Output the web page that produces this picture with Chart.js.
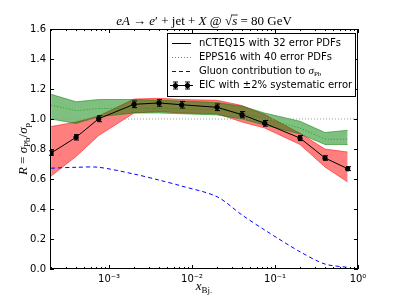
<!DOCTYPE html>
<html>
<head>
<meta charset="utf-8">
<script src="https://cdn.jsdelivr.net/npm/chart.js@4.4.0/dist/chart.umd.min.js"></script>
<style>
html, body { margin: 0; padding: 0; background: #fff; }
#chart { display: block; }
</style>
</head>
<body>
<canvas id="chart" width="399" height="299"></canvas>
<script>
// x_Bj. bins shared by all curves
var xBj = [2e-4, 4e-4, 7.5e-4, 2e-3, 4e-3, 7.5e-3, 0.02, 0.04, 0.075, 0.2, 0.4, 0.75];

// EIC pseudo-data (also the nCTEQ15 central line) and its +-2% error
var eicR   = [0.773, 0.878, 1.002, 1.098, 1.107, 1.095, 1.078, 1.029, 0.971, 0.873, 0.740, 0.669];
var eicErr = [0.015, 0.018, 0.020, 0.022, 0.022, 0.022, 0.022, 0.021, 0.019, 0.017, 0.015, 0.013];

// nCTEQ15 error band
var nctLow  = [0.62, 0.75, 0.89, 1.04, 1.05, 1.04, 1.035, 0.98, 0.94, 0.83, 0.68, 0.58];
var nctHigh = [0.95, 0.98, 1.02, 1.133, 1.138, 1.13, 1.125, 1.09, 1.03, 0.905, 0.80, 0.78];

// EPPS16 error band and central (dotted) line
var eppsLow  = [1.00, 0.97, 1.015, 1.04, 1.04, 1.035, 1.027, 1.00, 0.96, 0.90, 0.83, 0.83];
var eppsHigh = [1.165, 1.115, 1.13, 1.13, 1.125, 1.12, 1.11, 1.085, 1.04, 0.985, 0.91, 0.925];
var eppsMid  = [1.092, 1.056, 1.07, 1.072, 1.072, 1.068, 1.062, 1.04, 1.0, 0.94, 0.865, 0.865];

// gluon contribution to sigma_Pb
var gluon = [0.672, 0.678, 0.678, 0.633, 0.593, 0.553, 0.482, 0.36, 0.26, 0.115, 0.033, 0.011];

// reference line R = 1
var refX = [1.94e-4, 1];
var refY = [1, 1];

// axes
var xRange = [1.94e-4, 1];
var yRange = [0, 1.6];
var xMajorTicks = [1e-3, 1e-2, 1e-1, 1];
var xTickLabels = ['10\u207B\u00B3', '10\u207B\u00B2', '10\u207B\u00B9', '10\u2070'];
var yTicks = [0, 0.2, 0.4, 0.6, 0.8, 1.0, 1.2, 1.4, 1.6];

var SANS = '"DejaVu Sans"';
var SERIF = '"Liberation Serif"';

function pts(xs, ys) {
    return xs.map(function(x, i) { return {x: x, y: ys[i]}; });
}

function drawRich(ctx, segs, x, y) {
    var w = 0;
    segs.forEach(function(s) {
        ctx.font = s.font;
        s.w = ctx.measureText(s.t).width;
        w += s.w;
    });
    var cx = x - w / 2;
    segs.forEach(function(s) {
        ctx.font = s.font;
        ctx.fillText(s.t, cx, y + (s.dy || 0));
        if (s.bar) {
            ctx.lineWidth = 0.8;
            ctx.beginPath();
            ctx.moveTo(cx - 1, y - s.bar);
            ctx.lineTo(cx + s.w + 0.5, y - s.bar);
            ctx.stroke();
        }
        cx += s.w;
    });
}

function errBar(ctx, x, yTop, yBot, cap) {
    ctx.beginPath();
    ctx.moveTo(x, yTop); ctx.lineTo(x, yBot);
    ctx.moveTo(x - cap, yTop); ctx.lineTo(x + cap, yTop);
    ctx.moveTo(x - cap, yBot); ctx.lineTo(x + cap, yBot);
    ctx.stroke();
}

var decorPlugin = {
    id: 'decor',

    afterDatasetsDraw: function(chart) {
        var ctx = chart.ctx, xs = chart.scales.x, ys = chart.scales.y;
        ctx.save();
        ctx.strokeStyle = '#000';
        ctx.lineWidth = 1;
        xBj.forEach(function(x, i) {
            var px = Math.round(xs.getPixelForValue(x)) + 0.5;
            errBar(ctx, px, ys.getPixelForValue(eicR[i] + eicErr[i]), ys.getPixelForValue(eicR[i] - eicErr[i]), 2.5);
        });
        ctx.restore();
    },

    afterDraw: function(chart) {
        var ctx = chart.ctx, a = chart.chartArea;
        var xs = chart.scales.x, ys = chart.scales.y;
        ctx.save();

        // frame
        ctx.strokeStyle = '#000';
        ctx.lineWidth = 1;
        ctx.strokeRect(a.left + 0.5, a.top + 0.5, a.right - a.left - 1, a.bottom - a.top - 1);

        // inward ticks on all four sides
        ctx.beginPath();
        yTicks.forEach(function(v) {
            var py = Math.round(ys.getPixelForValue(v)) + 0.5;
            ctx.moveTo(a.left, py); ctx.lineTo(a.left + 4, py);
            ctx.moveTo(a.right, py); ctx.lineTo(a.right - 4, py);
        });
        for (var e = -4; e <= 0; e++) {
            for (var m = 1; m <= 9; m++) {
                var v = m * Math.pow(10, e);
                if (v < xRange[0] || v > xRange[1]) continue;
                var px = Math.round(xs.getPixelForValue(v)) + 0.5;
                var len = m === 1 ? 4 : 2;
                ctx.moveTo(px, a.bottom); ctx.lineTo(px, a.bottom - len);
                ctx.moveTo(px, a.top); ctx.lineTo(px, a.top + len);
            }
        }
        ctx.stroke();

        // legend
        var lx = 167.5, ly = 33.5, lw = 188, lh = 63;
        ctx.fillStyle = '#fff';
        ctx.fillRect(lx, ly, lw, lh);
        ctx.strokeStyle = '#000';
        ctx.strokeRect(lx, ly, lw, lh);
        var rows = [43.5, 57.5, 71.5, 85.5];
        var h0 = 172, h1 = 191, tx = 199;

        ctx.lineWidth = 1;
        ctx.strokeStyle = '#000';
        ctx.beginPath(); ctx.moveTo(h0, rows[0]); ctx.lineTo(h1, rows[0]); ctx.stroke();

        ctx.strokeStyle = 'rgba(0,160,0,0.8)';
        ctx.setLineDash([1, 2]);
        ctx.beginPath(); ctx.moveTo(h0, rows[1]); ctx.lineTo(h1, rows[1]); ctx.stroke();

        ctx.strokeStyle = '#0000ff';
        ctx.setLineDash([4, 3]);
        ctx.beginPath(); ctx.moveTo(h0, rows[2]); ctx.lineTo(h1, rows[2]); ctx.stroke();
        ctx.setLineDash([]);

        ctx.strokeStyle = '#000';
        ctx.beginPath(); ctx.moveTo(h0 - 2, rows[3]); ctx.lineTo(h1 + 2, rows[3]); ctx.stroke();
        [175.5, 187.5].forEach(function(mx) {
            errBar(ctx, mx, rows[3] - 3.5, rows[3] + 3.5, 2.5);
            ctx.fillStyle = '#000';
            ctx.beginPath(); ctx.arc(mx, rows[3], 2.6, 0, Math.PI * 2); ctx.fill();
        });

        ctx.fillStyle = '#000';
        ctx.textBaseline = 'middle';
        ctx.textAlign = 'left';
        ctx.font = '10px ' + SANS;
        ctx.fillText('nCTEQ15 with 32 error PDFs', tx, rows[0]);
        ctx.fillText('EPPS16 with 40 error PDFs', tx, rows[1]);
        ctx.fillText('Gluon contribution to ', tx, rows[2]);
        var gw = ctx.measureText('Gluon contribution to ').width;
        ctx.font = 'italic 11px ' + SERIF;
        ctx.fillText('\u03C3', tx + gw, rows[2]);
        var sw = ctx.measureText('\u03C3').width;
        ctx.font = '7px ' + SERIF;
        ctx.fillText('Pb', tx + gw + sw, rows[2] + 2.5);
        ctx.font = '10px ' + SANS;
        ctx.fillText('EIC with \u00B12% systematic error', tx, rows[3]);

        // title
        ctx.textAlign = 'left';
        ctx.textBaseline = 'alphabetic';
        ctx.strokeStyle = '#000';
        var it = 'italic 13px ' + SERIF, rm = '13px ' + SERIF;
        drawRich(ctx, [
            {t: 'eA', font: it}, {t: ' \u2192 ', font: rm}, {t: 'e', font: it}, {t: '\u2032', font: rm},
            {t: ' + jet + ', font: rm}, {t: 'X', font: it}, {t: ' @ ', font: rm},
            {t: '\u221A', font: rm}, {t: 's', font: it, bar: 10}, {t: ' = 80 GeV', font: rm}
        ], (a.left + a.right) / 2, 25);

        // x label
        drawRich(ctx, [
            {t: 'x', font: 'italic 13px ' + SERIF}, {t: 'Bj.', font: '9px ' + SERIF, dy: 3}
        ], (a.left + a.right) / 2, 290);

        // y label
        ctx.translate(27, (a.top + a.bottom) / 2);
        ctx.rotate(-Math.PI / 2);
        drawRich(ctx, [
            {t: 'R', font: it}, {t: ' = ', font: rm}, {t: '\u03C3', font: it},
            {t: 'Pb', font: '9px ' + SERIF, dy: 3}, {t: '/', font: rm},
            {t: '\u03C3', font: it}, {t: 'p', font: '9px ' + SERIF, dy: 3}
        ], 0, 0);

        ctx.restore();
    }
};

var ctx = document.getElementById('chart');

new Chart(ctx, {
    type: 'line',
    data: {
        datasets: [
            {   // 0: nCTEQ15 band low
                data: pts(xBj, nctLow),
                borderColor: 'rgba(255,0,0,0.5)', borderWidth: 1,
                pointRadius: 0, fill: false, order: 8
            },
            {   // 1: nCTEQ15 band high
                data: pts(xBj, nctHigh),
                borderColor: 'rgba(255,0,0,0.5)', borderWidth: 1,
                backgroundColor: 'rgba(255,0,0,0.5)',
                pointRadius: 0, fill: 0, order: 7
            },
            {   // 2: EPPS16 band low
                data: pts(xBj, eppsLow),
                borderColor: 'rgba(0,128,0,0.5)', borderWidth: 1,
                pointRadius: 0, fill: false, order: 6
            },
            {   // 3: EPPS16 band high
                data: pts(xBj, eppsHigh),
                borderColor: 'rgba(0,128,0,0.5)', borderWidth: 1,
                backgroundColor: 'rgba(0,128,0,0.5)',
                pointRadius: 0, fill: 2, order: 5
            },
            {   // 4: R = 1
                data: pts(refX, refY),
                borderColor: '#999', borderWidth: 1, borderDash: [1, 2],
                pointRadius: 0, fill: false, order: 4
            },
            {   // 5: gluon contribution
                data: pts(xBj, gluon),
                borderColor: '#0000ff', borderWidth: 1, borderDash: [4, 3],
                pointRadius: 0, fill: false, tension: 0.3, order: 3
            },
            {   // 6: EPPS16 central
                data: pts(xBj, eppsMid),
                borderColor: 'rgba(0,160,0,0.8)', borderWidth: 1, borderDash: [1, 2],
                pointRadius: 0, fill: false, order: 2
            },
            {   // 7: nCTEQ15 central + EIC points
                data: pts(xBj, eicR),
                borderColor: '#000', borderWidth: 1,
                pointRadius: 2.6, pointBackgroundColor: '#000', pointBorderWidth: 0,
                fill: false, order: 1
            }
        ]
    },
    options: {
        responsive: false,
        animation: false,
        layout: { padding: { left: 0, top: 29, right: 41, bottom: 0 } },
        plugins: {
            legend: { display: false },
            tooltip: { enabled: false },
            title: { display: false }
        },
        scales: {
            x: {
                type: 'logarithmic',
                min: xRange[0],
                max: xRange[1],
                afterBuildTicks: function(scale) {
                    scale.ticks = xMajorTicks.map(function(v) { return {value: v}; });
                },
                afterFit: function(scale) { scale.height = 30; },
                grid: { display: false, drawTicks: false },
                border: { display: false },
                ticks: {
                    autoSkip: false,
                    maxRotation: 0,
                    padding: 4,
                    color: '#000',
                    font: { family: 'DejaVu Sans', size: 10 },
                    callback: function(value, index) { return xTickLabels[index]; }
                }
            },
            y: {
                min: yRange[0],
                max: yRange[1],
                afterBuildTicks: function(scale) {
                    scale.ticks = yTicks.map(function(v) { return {value: v}; });
                },
                afterFit: function(scale) { scale.width = 50; },
                grid: { display: false, drawTicks: false },
                border: { display: false },
                ticks: {
                    padding: 4,
                    color: '#000',
                    font: { family: 'DejaVu Sans', size: 10 },
                    callback: function(value) { return value.toFixed(1); }
                }
            }
        }
    },
    plugins: [decorPlugin]
});
</script>
</body>
</html>
